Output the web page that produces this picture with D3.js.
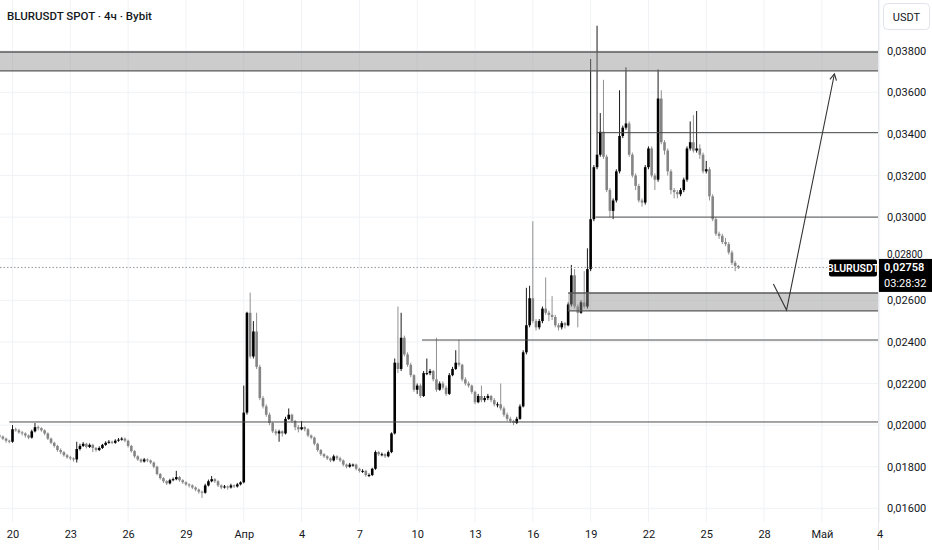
<!DOCTYPE html>
<html><head><meta charset="utf-8">
<script src="https://cdn.jsdelivr.net/npm/d3@7"></script>
<style>
html,body{margin:0;padding:0;background:#fff;}
svg{display:block;font-family:Roboto,"Liberation Sans",sans-serif;}
</style></head><body>
<svg id="chart" width="932" height="550"></svg>
<script>
// ---------- DATA ----------
const title = "BLURUSDT SPOT · 4ч · Bybit";
const symbol = "BLURUSDT";
const quote = "USDT";
const countdown = "03:28:32";
const firstBarUTC = Date.UTC(2024, 2, 19, 8);   // first visible 4h bar
const barHours = 4;
const firstOpen = 1950;                          // values in 0.00001 USDT
const closes = [
1945,1935,1925,1920,1980,1975,1965,1960,1950,1940,
1970,1990,1985,1975,1960,1935,1915,1900,1880,1870,
1855,1845,1840,1835,1885,1900,1910,1895,1905,1890,
1880,1890,1905,1915,1920,1915,1925,1930,1935,1925,
1900,1875,1850,1835,1825,1835,1830,1820,1800,1765,
1745,1730,1720,1735,1740,1750,1735,1725,1715,1710,
1700,1690,1680,1675,1710,1730,1740,1730,1710,1700,
1705,1700,1710,1705,1715,1725,2060,2540,2330,2450,
2280,2130,2090,2050,2010,1970,1960,1970,1960,2030,
2050,2020,1990,1980,1990,1980,1950,1940,1910,1880,
1860,1850,1840,1830,1850,1840,1830,1810,1800,1810,
1810,1790,1780,1780,1760,1760,1790,1870,1860,1860,
1850,1870,1960,2300,2270,2420,2340,2290,2240,2170,
2190,2140,2250,2250,2260,2220,2170,2200,2180,2150,
2240,2270,2300,2290,2220,2200,2190,2160,2110,2140,
2120,2130,2140,2120,2100,2100,2080,2050,2030,2020,
2010,2030,2090,2350,2480,2610,2500,2470,2500,2560,
2540,2530,2520,2480,2470,2490,2480,2580,2720,2570,
2540,2590,2570,2750,2990,3240,3300,3410,3290,3130,
3030,3080,3220,3390,3430,3450,3300,3200,3150,3080,
3070,3240,3330,3200,3180,3570,3360,3320,3220,3130,
3120,3110,3130,3180,3330,3360,3320,3330,3300,3220,
3230,3100,2990,2920,2910,2880,2870,2830,2780,2765,2758];
const highs = [
1960,1950,1940,1930,2000,1988,1982,1972,1965,1955,
1978,2010,1998,1990,1980,1965,1940,1920,1905,1888,
1875,1862,1852,1845,1920,1910,1918,1915,1912,1910,
1895,1898,1910,1922,1928,1925,1932,1938,1942,1940,
1930,1905,1880,1855,1840,1842,1840,1835,1825,1805,
1770,1750,1735,1742,1748,1780,1755,1740,1730,1720,
1715,1705,1695,1685,1718,1738,1755,1745,1735,1715,
1712,1710,1718,1715,1722,1730,2190,2545,2637,2500,
2540,2290,2140,2100,2060,2015,1980,1978,1975,2040,
2080,2055,2025,2000,2020,1995,1985,1955,1945,1915,
1885,1865,1855,1845,1858,1855,1848,1835,1815,1818,
1815,1815,1795,1788,1785,1768,1795,1878,1875,1868,
1865,1878,1965,2320,2570,2540,2430,2350,2300,2245,
2200,2200,2260,2320,2270,2265,2420,2210,2210,2190,
2250,2280,2360,2410,2295,2230,2210,2195,2165,2150,
2190,2140,2150,2145,2130,2110,2200,2090,2060,2040,
2025,2040,2100,2360,2660,2670,2980,2510,2510,2570,
2710,2550,2620,2530,2490,2500,2495,2590,2770,2750,
2580,2600,2740,2850,3760,3250,3920,3500,3660,3300,
3140,3090,3230,3610,3440,3720,3460,3310,3210,3160,
3090,3250,3340,3340,3210,3710,3610,3370,3330,3230,
3140,3130,3140,3190,3340,3460,3490,3510,3350,3310,
3270,3240,3110,3000,2930,2920,2900,2880,2840,2790,2770];
const lows = [
1935,1928,1915,1912,1915,1968,1958,1950,1940,1932,
1935,1965,1975,1968,1952,1928,1908,1892,1872,1860,
1848,1838,1832,1825,1820,1878,1895,1888,1890,1870,
1872,1875,1885,1900,1910,1908,1910,1920,1925,1918,
1892,1868,1842,1828,1818,1820,1822,1812,1792,1758,
1738,1722,1712,1715,1730,1735,1728,1718,1708,1700,
1692,1682,1670,1650,1670,1705,1725,1722,1702,1692,
1695,1690,1695,1698,1700,1710,1720,2050,2320,2320,
2270,2120,2080,2040,2000,1962,1950,1920,1945,1955,
2025,2012,1975,1965,1975,1970,1942,1932,1902,1872,
1852,1842,1832,1822,1825,1832,1822,1802,1792,1795,
1800,1782,1772,1770,1752,1750,1755,1785,1852,1850,
1842,1845,1865,1955,2250,2260,2330,2280,2230,2160,
2150,2130,2135,2240,2240,2210,2160,2165,2170,2140,
2145,2235,2265,2280,2210,2190,2180,2150,2100,2105,
2110,2110,2120,2110,2090,2085,2070,2040,2020,2010,
2000,2005,2025,2085,2340,2470,2490,2455,2460,2490,
2530,2500,2505,2470,2455,2460,2465,2475,2570,2560,
2470,2535,2560,2560,2740,2980,3230,3290,3280,3120,
3000,2990,3070,3210,3380,3420,3290,3190,3130,3070,
3050,3060,3230,3190,3130,3170,3350,3300,3200,3110,
3090,3090,3100,3120,3170,3320,3310,3310,3280,3210,
3210,3080,2980,2910,2895,2870,2860,2820,2770,2740,2750];
const lastPrice = 0.02758;
const priceTicks = [0.016,0.018,0.020,0.022,0.024,0.026,0.028,0.030,0.032,0.034,0.036,0.038];
const timeTickDates = ["2024-03-20","2024-03-23","2024-03-26","2024-03-29","2024-04-01","2024-04-04","2024-04-07","2024-04-10","2024-04-13","2024-04-16","2024-04-19","2024-04-22","2024-04-25","2024-04-28","2024-05-01","2024-05-04"];
const timeTickLabels = ["20","23","26","29","Апр","4","7","10","13","16","19","22","25","28","Май","4"];
// drawings (bar index, price)
const hLineBars   = [3, 131.5, 185.5, 186];
const hLinePrices = [0.02015, 0.02409, 0.0300, 0.03406];
const zoneBars    = [-10, 177];
const zoneTops    = [0.03794, 0.02635];
const zoneBottoms = [0.03703, 0.02549];
const arrowBars   = [240.9, 245, 259.9];
const arrowPrices = [0.02678, 0.02553, 0.03688];

// ---------- CHART ----------
const plotR = 878, plotB = 522, W = 932, H = 550;
const svg = d3.select("#chart");
const barDate = i => new Date(firstBarUTC + i * barHours * 3600e3);
const x = d3.scaleUtc()
  .domain([new Date(Date.UTC(2024,2,20)), new Date(Date.UTC(2024,4,4))])
  .range([12.5, 879.7]);
const y = d3.scaleLinear().domain([0.016, 0.038]).range([508.3, 50.7]);
const fmt = p => d3.format(".5f")(p).replace(".", ",");
const yp = y(lastPrice);

const defs = svg.append("defs");
defs.append("clipPath").attr("id","plot")
  .append("rect").attr("x",0).attr("y",0).attr("width",plotR).attr("height",plotB);
defs.append("clipPath").attr("id","axisclip")
  .append("rect").attr("x",plotR+1).attr("y",0).attr("width",W-plotR).attr("height",H);

// grid
const grid = svg.append("g");
grid.selectAll("line.v").data(timeTickDates).join("line")
  .attr("x1", d => x(new Date(d+"T00:00:00Z"))).attr("x2", d => x(new Date(d+"T00:00:00Z")))
  .attr("y1", 0).attr("y2", plotB).attr("stroke", "#f0f2f5").attr("stroke-width", 1);
grid.selectAll("line.h").data(priceTicks).join("line")
  .attr("x1", 0).attr("x2", plotR).attr("y1", d => y(d)).attr("y2", d => y(d))
  .attr("stroke", "#f0f2f5").attr("stroke-width", 1);

svg.append("line").attr("x1", plotR+0.5).attr("x2", plotR+0.5).attr("y1", 0).attr("y2", H)
  .attr("stroke", "#e6e8ec");

const plot = svg.append("g").attr("clip-path", "url(#plot)");

// candles
const candles = closes.map((c, i) => ({
  t: barDate(i), o: (i === 0 ? firstOpen : closes[i-1]) / 1e5, c: c / 1e5,
  h: highs[i] / 1e5, l: lows[i] / 1e5
}));
const upCol = "#000000", dnCol = "#858585";
const cg = plot.append("g");
cg.selectAll("line").data(candles).join("line")
  .attr("x1", d => x(d.t)).attr("x2", d => x(d.t))
  .attr("y1", d => y(d.h)).attr("y2", d => y(d.l))
  .attr("stroke", d => d.c >= d.o ? upCol : dnCol).attr("stroke-width", 0.9);
const bw = 2.6;
cg.selectAll("rect").data(candles).join("rect")
  .attr("x", d => x(d.t) - bw/2).attr("width", bw)
  .attr("y", d => y(Math.max(d.o, d.c)))
  .attr("height", d => Math.max(1, Math.abs(y(d.o) - y(d.c))))
  .attr("fill", d => d.c >= d.o ? upCol : dnCol);

// zones
const zones = zoneBars.map((b, i) => ({b, top: zoneTops[i], bot: zoneBottoms[i]}));
const zg = plot.append("g");
zg.selectAll("rect").data(zones).join("rect")
  .attr("x", d => x(barDate(d.b))).attr("width", d => plotR - x(barDate(d.b)))
  .attr("y", d => y(d.top)).attr("height", d => y(d.bot) - y(d.top))
  .attr("fill", "#8f8f8f").attr("fill-opacity", 0.45);
zones.forEach(d => {
  [d.top, d.bot].forEach(p => {
    zg.append("line").attr("x1", x(barDate(d.b))).attr("x2", plotR)
      .attr("y1", y(p)).attr("y2", y(p)).attr("stroke", "#5a5a5a").attr("stroke-width", 1.4);
  });
});

// horizontal lines
plot.append("g").selectAll("line").data(hLineBars).join("line")
  .attr("x1", d => x(barDate(d))).attr("x2", plotR)
  .attr("y1", (d, i) => y(hLinePrices[i])).attr("y2", (d, i) => y(hLinePrices[i]))
  .attr("stroke", "#4a4a4a").attr("stroke-width", 1);

// last price dotted line
plot.append("line").attr("x1", 0).attr("x2", plotR)
  .attr("y1", yp).attr("y2", yp)
  .attr("stroke", "#9598a1").attr("stroke-width", 1).attr("stroke-dasharray", "1.5,2");

// arrow
const apts = arrowBars.map((b, i) => [x(barDate(b)), y(arrowPrices[i])]);
plot.append("path").attr("d", d3.line()(apts)).attr("fill", "none")
  .attr("stroke", "#333").attr("stroke-width", 1.1);
{
  const [x1, y1] = apts[1], [x2, y2] = apts[2];
  const ang = Math.atan2(y2 - y1, x2 - x1), L = 7, a = 0.5;
  const head = [[x2 - L*Math.cos(ang - a), y2 - L*Math.sin(ang - a)], [x2, y2],
                [x2 - L*Math.cos(ang + a), y2 - L*Math.sin(ang + a)]];
  plot.append("path").attr("d", d3.line()(head)).attr("fill", "none")
    .attr("stroke", "#333").attr("stroke-width", 1.1);
}

// price axis (tick labels hidden behind the last-price box are dropped, as in the reference they are mostly covered)
const ya = svg.append("g").attr("transform", `translate(${plotR},0)`)
  .call(d3.axisRight(y).tickValues(priceTicks).tickFormat(fmt).tickSize(0).tickPadding(9));
ya.select(".domain").remove();
ya.selectAll("text").attr("font-size", 11).attr("fill", "#131722")
  .attr("font-family", "Roboto, 'Liberation Sans', sans-serif");
ya.selectAll(".tick").filter(d => Math.abs(y(d) - yp) < 14).select("text")
  .attr("dy", "-0.15em").attr("font-size", 10);

// time axis
const xa = svg.append("g").attr("transform", `translate(0,${plotB})`)
  .call(d3.axisBottom(x).tickValues(timeTickDates.map(d => new Date(d+"T00:00:00Z")))
    .tickFormat((d, i) => timeTickLabels[i]).tickSize(0).tickPadding(8));
xa.select(".domain").remove();
xa.selectAll("text").attr("font-size", 11).attr("fill", "#131722")
  .attr("font-family", "Roboto, 'Liberation Sans', sans-serif");

// title
svg.append("text").attr("x", 7).attr("y", 20).text(title)
  .attr("font-size", 11.5).attr("font-weight", 500).attr("fill", "#131722");

// currency box
svg.append("rect").attr("x", 883.5).attr("y", 3.5).attr("width", 46).attr("height", 26)
  .attr("rx", 4).attr("fill", "#fff").attr("stroke", "#e0e3eb");
svg.append("text").attr("x", 906.5).attr("y", 20.5).attr("text-anchor", "middle")
  .text(quote).attr("font-size", 11).attr("fill", "#131722");

// last price labels
svg.append("rect").attr("x", 829).attr("y", yp - 8).attr("width", 48).attr("height", 17)
  .attr("rx", 2).attr("fill", "#000");
svg.append("text").attr("x", 853).attr("y", yp + 4.2).attr("text-anchor", "middle")
  .text(symbol).attr("font-size", 10.5).attr("font-weight", 600).attr("fill", "#fff");
svg.append("rect").attr("x", plotR + 1).attr("y", yp - 8.5).attr("width", W - plotR - 1).attr("height", 33)
  .attr("fill", "#000");
svg.append("text").attr("x", 884).attr("y", yp + 4).text(fmt(lastPrice))
  .attr("font-size", 11).attr("font-weight", 600).attr("fill", "#fff");
svg.append("text").attr("x", 884).attr("y", yp + 20).text(countdown)
  .attr("font-size", 11).attr("fill", "#fff");
</script>
</body></html>
